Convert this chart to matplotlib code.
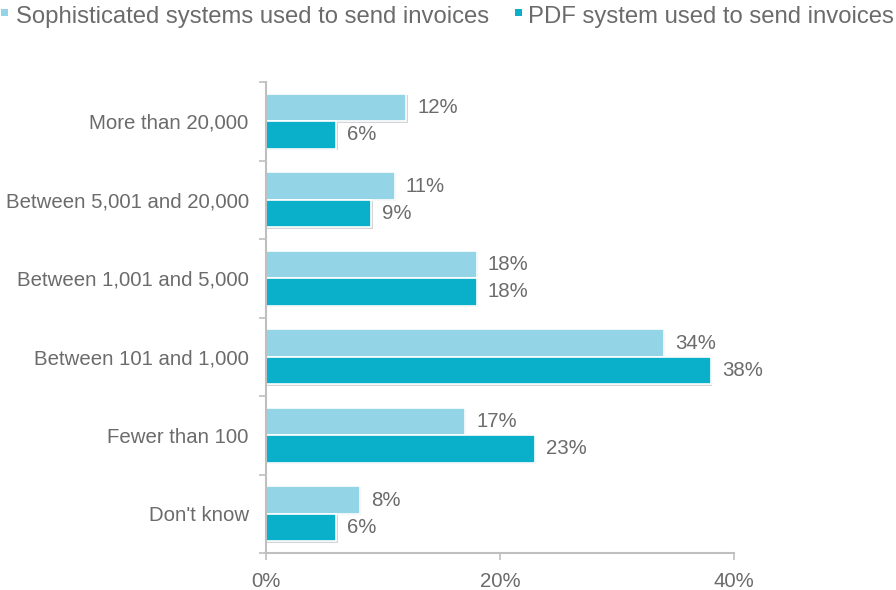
import matplotlib
matplotlib.use("Agg")
import matplotlib.pyplot as plt
import matplotlib.patheffects as pe
from matplotlib.patches import Rectangle
import numpy as np

plt.rcParams['font.family'] = ['Liberation Sans', 'DejaVu Sans']

categories = ["More than 20,000", "Between 5,001 and 20,000", "Between 1,001 and 5,000",
              "Between 101 and 1,000", "Fewer than 100", "Don't know"]
sophisticated = [12, 11, 18, 34, 17, 8]
pdf_system = [6, 9, 18, 38, 23, 6]
series_names = ["Sophisticated systems used to send invoices", "PDF system used to send invoices"]
xticks = [0, 20, 40]

light = "#93D4E7"
dark = "#0AAFCA"
text_col = "#6B6B6B"
axis_col = "#BFBFBF"
fs = 14.7

W, H = 896, 590
fig = plt.figure(figsize=(W / 100, H / 100), dpi=100)
ax = fig.add_axes([266 / W, 1 - 553 / H, (734 - 266) / W, (553 - 82) / H])

n = len(categories)
y = np.arange(n)[::-1]  # first category at top
h = 0.35
shadow = [pe.SimplePatchShadow(offset=(1.0, -1.0), shadow_rgbFace="#AAAAAA", alpha=0.5), pe.Normal()]

b1 = ax.barh(y + h / 2, sophisticated, height=h, color=light, edgecolor="white", linewidth=1.2)
b2 = ax.barh(y - h / 2, pdf_system, height=h, color=dark, edgecolor="white", linewidth=1.2)
for bars in (b1, b2):
    for p in bars:
        p.set_path_effects(shadow)

for yy, v in zip(y + h / 2, sophisticated):
    ax.text(v + 0.95, yy, f"{v}%", va="center", ha="left", fontsize=fs, color=text_col)
for yy, v in zip(y - h / 2, pdf_system):
    ax.text(v + 0.95, yy, f"{v}%", va="center", ha="left", fontsize=fs, color=text_col)

ax.set_xlim(0, 40)
ax.set_ylim(-0.5, n - 0.5)
ax.set_xticks(xticks)
ax.set_xticklabels([f"{t}%" for t in xticks], fontsize=fs, color=text_col)
ax.set_yticks(y)
ax.set_yticklabels(categories, fontsize=fs, color=text_col)
ax.tick_params(axis="y", length=0, pad=12.5)
ax.tick_params(axis="x", length=5, color=axis_col, width=1.2, direction="out", pad=9)

# category boundary ticks on the y axis
ax.set_yticks(np.arange(-0.5, n, 1.0), minor=True)
ax.tick_params(axis="y", which="minor", length=5, color=axis_col, width=1.2)

for s in ("top", "right"):
    ax.spines[s].set_visible(False)
for s in ("left", "bottom"):
    ax.spines[s].set_color(axis_col)
    ax.spines[s].set_linewidth(1.5)

# legend row: small square swatch followed by the series name
legend_items = [(series_names[0], light, 1, 16), (series_names[1], dark, 515, 528)]
for name, col, mx, tx in legend_items:
    fig.patches.append(Rectangle((mx / W, 1 - 16 / H), 7 / W, 7 / H, transform=fig.transFigure,
                                 facecolor=col, edgecolor="none"))
    fig.text(tx / W, 1 - 23 / H, name, ha="left", va="baseline", color=text_col, fontsize=17.2)

fig.savefig("out.png", dpi=100, facecolor="white")
